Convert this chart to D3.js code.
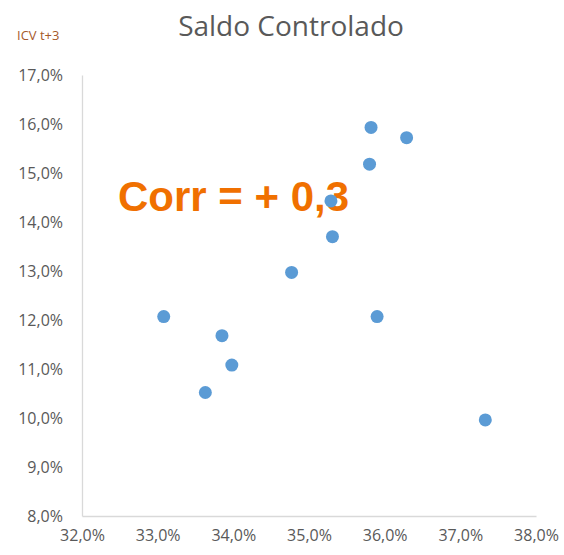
<!DOCTYPE html>
<html>
<head>
<meta charset="utf-8">
<script src="https://cdn.jsdelivr.net/npm/d3@7"></script>
<style>
  body { margin: 0; background: #fff; }
  text { font-family: "Open Sans", sans-serif; }
</style>
</head>
<body>
<div id="chart"></div>
<script>
// saldo controlado (x) vs ICV t+3 (y), in %
const saldo = [33.08, 33.85, 33.98, 33.63, 34.77, 35.31, 35.29, 35.80, 35.82, 36.29, 35.90, 37.33]
const icv   = [12.07, 11.68, 11.08, 10.52, 12.97, 13.70, 14.43, 15.18, 15.93, 15.72, 12.07, 9.96]
const xTicks = [32, 33, 34, 35, 36, 37, 38]
const yTicks = [8, 9, 10, 11, 12, 13, 14, 15, 16, 17]

const width = 564, height = 555
const m = {top: 75, right: 28, bottom: 39, left: 82}

const svg = d3.select("#chart").append("svg")
  .attr("width", width).attr("height", height)

const x = d3.scaleLinear().domain([32, 38]).range([m.left, width - m.right])
const y = d3.scaleLinear().domain([8, 17]).range([height - m.bottom, m.top])

const fmt = d => d.toFixed(1).replace(".", ",") + "%"

// axes, excel-ish: only the lines, no ticks
const xAxis = svg.append("g")
  .attr("transform", `translate(0,${y(8)})`)
  .call(d3.axisBottom(x).tickValues(xTicks).tickFormat(fmt).tickSize(0).tickPadding(14))
const yAxis = svg.append("g")
  .attr("transform", `translate(${x(32)},0)`)
  .call(d3.axisLeft(y).tickValues(yTicks).tickFormat(fmt).tickSize(0).tickPadding(19))

;[xAxis, yAxis].forEach(g => {
  g.select(".domain").attr("stroke", "#d9d9d9").attr("stroke-width", 1.3)
  g.selectAll("text").attr("fill", "#595959").style("font-size", "16px")
    .style("font-family", "'Open Sans', sans-serif")
})
yAxis.selectAll("text").attr("dy", "0.35em")

// title + axis label
svg.append("text").attr("x", 291).attr("y", 36)
  .attr("text-anchor", "middle").attr("fill", "#595959")
  .style("font-size", "28px").text("Saldo Controlado")

svg.append("text").attr("x", 17).attr("y", 40)
  .attr("fill", "#a65a2a").style("font-size", "13px").text("ICV t+3")

// correlation note
svg.append("text").attr("x", 118).attr("y", 211)
  .attr("fill", "#f07000")
  .style("font-family", "'Liberation Sans', Arial, sans-serif")
  .style("font-weight", "bold").style("font-size", "42px")
  .text("Corr = + 0,3")

svg.append("g").selectAll("circle")
  .data(saldo.map((d, i) => [d, icv[i]]))
  .enter().append("circle")
  .attr("cx", d => x(d[0]))
  .attr("cy", d => y(d[1]))
  .attr("r", 6.5)
  .attr("fill", "#5b9bd5")
</script>
</body>
</html>
